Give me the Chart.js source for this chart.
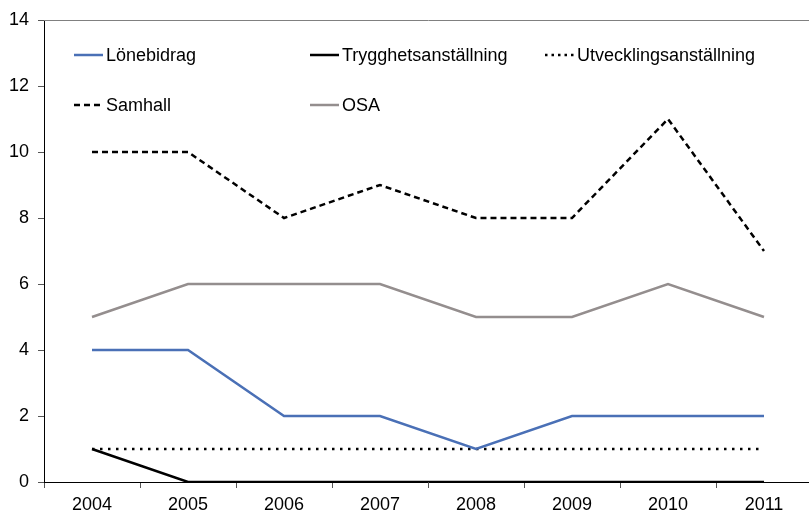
<!DOCTYPE html>
<html>
<head>
<meta charset="utf-8">
<script src="https://cdn.jsdelivr.net/npm/chart.js@4"></script>
<style>
    html, body { margin: 0; padding: 0; background: #fff; overflow: hidden; }
    #wrap { width: 813px; height: 512px; position: relative; }
</style>
</head>
<body>
<div id="wrap"><canvas id="chart" width="813" height="512"></canvas></div>
<script>
const years = ["2004", "2005", "2006", "2007", "2008", "2009", "2010", "2011"];
const lonebidrag = [4, 4, 2, 2, 1, 2, 2, 2];
const trygghet = [1, 0, 0, 0, 0, 0, 0, 0];
const utveckling = [1, 1, 1, 1, 1, 1, 1, 1];
const samhall = [10, 10, 8, 9, 8, 8, 11, 7];
const osa = [5, 6, 6, 6, 5, 5, 6, 5];

const FONT = "'Liberation Sans', Arial, sans-serif";

// legend slots (column x, row y) in the order of the datasets
const legendSlots = [[74, 55], [310, 55], [545, 55], [74, 105], [310, 105]];

const legendPlugin = {
    id: "gridLegend",
    afterDraw(chart) {
        const ctx = chart.ctx;
        const area = chart.chartArea;

        // top border of the plot area
        ctx.save();
        ctx.strokeStyle = "#808080";
        ctx.lineWidth = 1;
        ctx.beginPath();
        ctx.moveTo(area.left, area.top + 0.5);
        ctx.lineTo(chart.width, area.top + 0.5);
        ctx.stroke();

        chart.data.datasets.forEach((ds, i) => {
            const [x, y] = legendSlots[i];
            ctx.strokeStyle = ds.borderColor;
            ctx.lineWidth = ds.borderWidth;
            ctx.lineCap = ds.borderCapStyle || "butt";
            ctx.setLineDash(ds.legendDash || []);
            ctx.beginPath();
            ctx.moveTo(x, y);
            ctx.lineTo(x + 29, y);
            ctx.stroke();
            ctx.setLineDash([]);
            ctx.fillStyle = "#000";
            ctx.font = "18px " + FONT;
            ctx.textBaseline = "middle";
            ctx.fillText(ds.label, x + 32, y + 1);
        });
        ctx.restore();
    }
};

new Chart(document.getElementById("chart").getContext("2d"), {
    type: "line",
    data: {
        labels: years,
        datasets: [
            { label: "Lönebidrag", data: lonebidrag, borderColor: "#4A70B6", borderWidth: 2.5 },
            { label: "Trygghetsanställning", data: trygghet, borderColor: "#000000", borderWidth: 2.5 },
            { label: "Utvecklingsanställning", data: utveckling, borderColor: "#000000", borderWidth: 2.5,
              borderDash: [2.5, 5.5], legendDash: [2.5, 4] },
            { label: "Samhall", data: samhall, borderColor: "#000000", borderWidth: 2.5,
              borderDash: [6, 4], legendDash: [6, 4] },
            { label: "OSA", data: osa, borderColor: "#948E8E", borderWidth: 2.5 }
        ]
    },
    options: {
        responsive: false,
        animation: false,
        events: [],
        layout: { padding: { top: 20, right: 1, left: 0, bottom: 0 } },
        elements: {
            point: { radius: 0 },
            line: { tension: 0, borderJoinStyle: "miter" }
        },
        plugins: {
            legend: { display: false },
            tooltip: { enabled: false }
        },
        scales: {
            x: {
                offset: true,
                grid: { display: true, drawOnChartArea: false, drawTicks: true, tickLength: 6, offset: true, color: "#555" },
                border: { display: true, color: "#000", width: 1 },
                ticks: { color: "#000", font: { family: FONT, size: 18 }, padding: 6, maxRotation: 0 },
                afterFit(scale) { scale.height = 30; }
            },
            y: {
                min: 0,
                max: 14,
                ticks: { stepSize: 2, color: "#000", font: { family: FONT, size: 18 }, padding: 9 },
                grid: { display: true, drawOnChartArea: false, drawTicks: true, tickLength: 6, color: "#555" },
                border: { display: true, color: "#000", width: 1 },
                afterFit(scale) { scale.width = 44; }
            }
        }
    },
    plugins: [legendPlugin]
});
</script>
</body>
</html>
